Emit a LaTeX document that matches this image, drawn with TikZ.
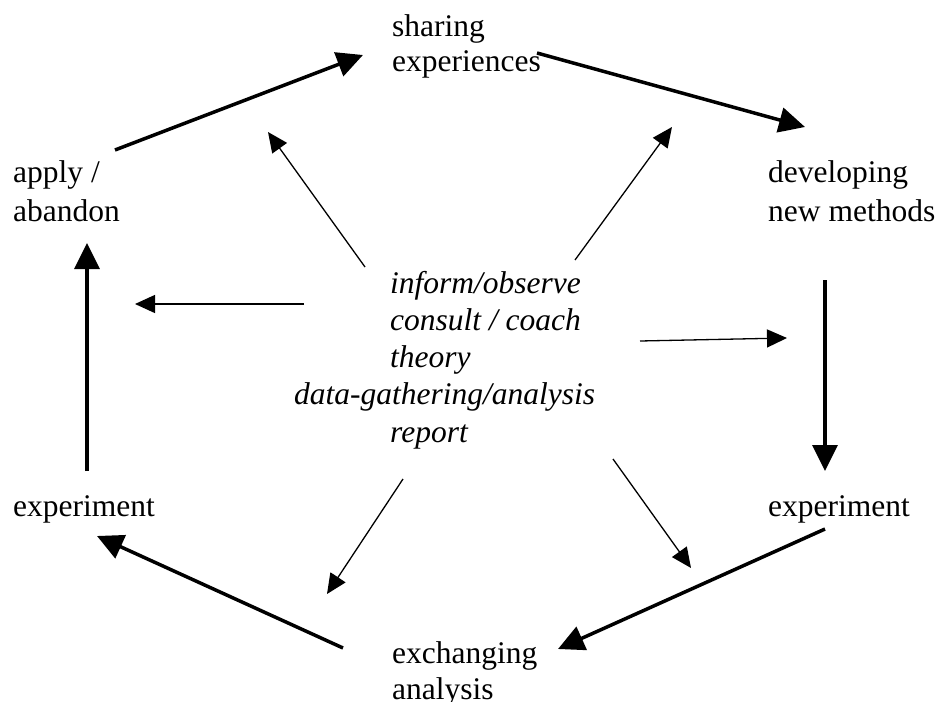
\documentclass[tikz,border=0pt]{standalone}
\usepackage{fontspec}
\setmainfont{Liberation Serif}
\usetikzlibrary{arrows.meta}
\newcommand{\fsz}[1]{\fontsize{31.5bp}{#1}\selectfont}
\begin{document}
\begin{tikzpicture}[x=1bp,y=-1bp,
  lbl/.style={inner sep=0pt, anchor=base west, align=left},
  bigarr/.style={line width=3.5bp, -{Triangle[length=26bp,width=25bp]}},
  smallarr/.style={line width=1.3bp, -{Triangle[length=20bp,width=18bp]}}]
\useasboundingbox (0,0) rectangle (940,702);
% cycle nodes (anchored at the baseline of the last line)
\node[lbl, font=\fsz{35bp}] (share) at (392,72) {sharing\\experiences};
\node[lbl, font=\fsz{38.5bp}] (devel) at (768,221) {developing\\new methods};
\node[lbl, font=\fsz{36bp}] (expR) at (768,516) {experiment};
\node[lbl, font=\fsz{36bp}] (exch) at (392,699) {exchanging\\analysis};
\node[lbl, font=\fsz{36bp}] (expL) at (13,516) {experiment};
\node[lbl, font=\fsz{38bp}] (apply) at (13,221) {apply /\\abandon};
% centre text
\node[lbl, font=\fsz{37.2bp}\itshape] (centre) at (390,442) {inform/observe\\consult / coach\\theory\\\hspace*{-96bp}data-gathering/analysis\\report};
% coordinates for cycle arrows
\coordinate (a1s) at (115,150); \coordinate (a1e) at (363,55);
\coordinate (a2s) at (537,53);  \coordinate (a2e) at (805,127);
\coordinate (a3s) at (825,280); \coordinate (a3e) at (825,471);
\coordinate (a4s) at (825,529); \coordinate (a4e) at (558,649);
\coordinate (a5s) at (343,648); \coordinate (a5e) at (97,536);
\coordinate (a6s) at (87,471);  \coordinate (a6e) at (87,243);
\draw[bigarr] (a1s) -- (a1e);
\draw[bigarr] (a2s) -- (a2e);
\draw[bigarr] (a3s) -- (a3e);
\draw[bigarr] (a4s) -- (a4e);
\draw[bigarr] (a5s) -- (a5e);
\draw[bigarr] (a6s) -- (a6e);
% coordinates for centre arrows
\coordinate (b1s) at (365,267); \coordinate (b1e) at (268,132);
\coordinate (b2s) at (575,260); \coordinate (b2e) at (672,127);
\coordinate (b3s) at (304,304); \coordinate (b3e) at (135,304);
\coordinate (b4s) at (640,341); \coordinate (b4e) at (787,338);
\coordinate (b5s) at (403,479); \coordinate (b5e) at (327,594);
\coordinate (b6s) at (613,459); \coordinate (b6e) at (691,568);
\foreach \i in {1,...,6} \draw[smallarr] (b\i s) -- (b\i e);
\end{tikzpicture}
\end{document}
